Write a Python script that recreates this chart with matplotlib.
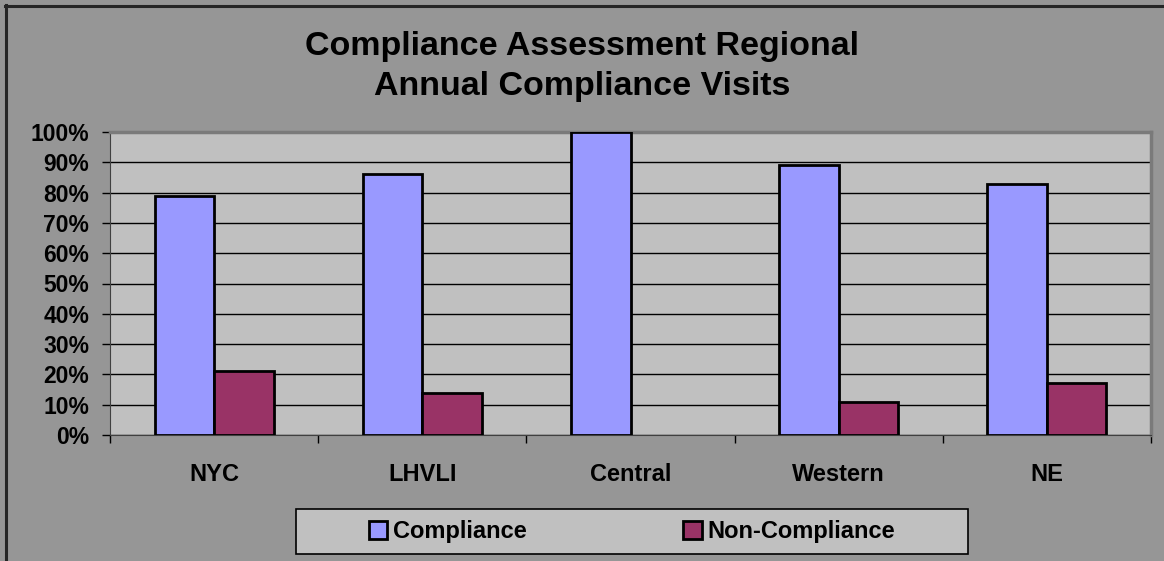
import numpy as np
from matplotlib import pyplot as plt
from matplotlib.patches import Rectangle

regions = ["NYC", "LHVLI", "Central", "Western", "NE"]
compliance = [79, 86, 100, 89, 83]
non_compliance = [21, 14, 0, 11, 17]
yticks = [0, 10, 20, 30, 40, 50, 60, 70, 80, 90, 100]


def main():
    plt.rcParams.update({
        "font.family": ["Liberation Sans", "DejaVu Sans"],
        "font.weight": "bold",
    })

    W, H = 1164, 561
    fig = plt.figure(figsize=(W / 100, H / 100), dpi=100, facecolor="#969696")

    # outer chart border (top and left visible only)
    fig.add_artist(plt.Line2D([5 / W, 1], [1 - 5.5 / H, 1 - 5.5 / H], color="#262626", lw=2.2,
                              transform=fig.transFigure))
    fig.add_artist(plt.Line2D([5.5 / W, 5.5 / W], [0, 1 - 5 / H], color="#262626", lw=2.2,
                              transform=fig.transFigure))

    left, right, top, bottom = 110, 1151, 132, 435
    ax = fig.add_axes([left / W, 1 - bottom / H, (right - left) / W, (bottom - top) / H])
    ax.set_facecolor("#C0C0C0")

    x = np.arange(len(regions))
    w = 1 / 3.5
    ax.bar(x - w / 2, compliance, width=w, color="#9999FF",
           edgecolor=["black" if v > 0 else "none" for v in compliance], linewidth=2,
           label="Compliance", zorder=3)
    ax.bar(x + w / 2, non_compliance, width=w, color="#993366",
           edgecolor=["black" if v > 0 else "none" for v in non_compliance], linewidth=2,
           label="Non-Compliance", zorder=3)

    ax.set_xlim(-0.5, len(regions) - 0.5)
    ax.set_ylim(0, 100)
    ax.set_yticks(yticks)
    ax.set_yticklabels([f"{t}%" for t in yticks], fontsize=16.5, fontweight="bold")
    ax.yaxis.grid(True, color="black", linewidth=1, zorder=1)
    ax.set_axisbelow(True)

    ax.set_xticks(np.arange(len(regions) + 1) - 0.5, minor=False)
    ax.set_xticklabels([])
    ax.set_xticks(x, minor=True)
    ax.set_xticklabels(regions, minor=True, fontsize=17, fontweight="bold")
    ax.tick_params(axis="x", which="major", length=6, width=1, color="black", direction="out")
    ax.tick_params(axis="x", which="minor", length=0, pad=20)
    ax.tick_params(axis="y", length=6, width=1, color="black", pad=9)

    ax.spines["left"].set_color("#404040")
    ax.spines["bottom"].set_color("#404040")
    ax.spines["top"].set_color("#7A7A7A")
    ax.spines["right"].set_color("#7A7A7A")
    ax.spines["top"].set_linewidth(2.5)
    ax.spines["right"].set_linewidth(2.5)

    fig.text(0.5, 1 - 47 / H, "Compliance Assessment Regional", ha="center", va="center",
             fontsize=24.5, fontweight="bold")
    fig.text(0.5, 1 - 86 / H, "Annual Compliance Visits", ha="center", va="center",
             fontsize=24.5, fontweight="bold")

    # legend box
    lx0, lx1, ly0, ly1 = 296, 968, 509, 554
    fig.add_artist(Rectangle((lx0 / W, 1 - ly1 / H), (lx1 - lx0) / W, (ly1 - ly0) / H,
                             transform=fig.transFigure, facecolor="#C0C0C0",
                             edgecolor="black", linewidth=1.2))
    leg = fig.legend(loc="center", bbox_to_anchor=((lx0 + lx1) / 2 / W, 1 - (ly0 + ly1) / 2 / H),
                     ncol=2, frameon=False, prop={"size": 17, "weight": "bold"},
                     handlelength=0.8, handleheight=0.8, handletextpad=0.25, columnspacing=6.6)
    for h in leg.legend_handles:
        h.set_edgecolor("black")
        h.set_linewidth(2)

    plt.savefig("out.png", dpi=100, facecolor=fig.get_facecolor())


if __name__ == '__main__':
    main()
